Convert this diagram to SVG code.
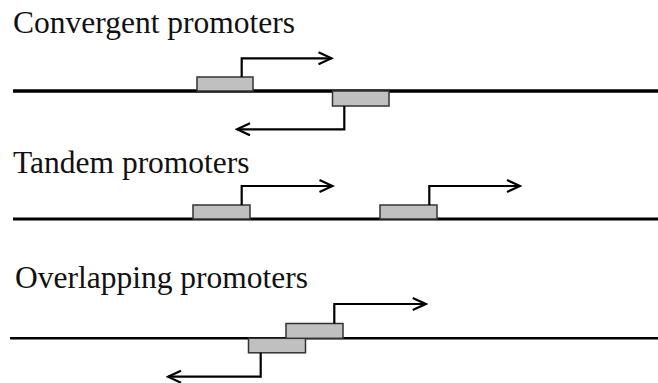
<svg xmlns="http://www.w3.org/2000/svg" width="658" height="383" viewBox="0 0 658 383">
<style>
.t{font-family:"Liberation Serif","Times New Roman",serif;font-size:31.5px;fill:#111}
.dna{stroke:#000;fill:none}
.box{fill:#c0c0c0;stroke:#333;stroke-width:1.5}
.arr{stroke:#000;stroke-width:2.2;fill:none}
</style>
<defs>
<marker id="ah" markerWidth="16" markerHeight="14" refX="14" refY="7" orient="auto" markerUnits="userSpaceOnUse">
<path d="M1,1 L14,7 L1,13" fill="none" stroke="#000" stroke-width="2.2"/>
</marker>
</defs>
<rect width="658" height="383" fill="#fff"/>
<g id="labels">
<text class="t" x="13" y="33">Convergent promoters</text>
<text class="t" x="13" y="173">Tandem promoters</text>
<text class="t" x="15" y="288">Overlapping promoters</text>
</g>
<g id="dna">
<line class="dna" x1="13" y1="91" x2="658" y2="91" stroke-width="3.5"/>
<line class="dna" x1="13" y1="219" x2="658" y2="219" stroke-width="3"/>
<line class="dna" x1="10" y1="338.3" x2="658" y2="338.3" stroke-width="2.6"/>
</g>
<g id="promoter-c1"><rect class="box" x="197" y="77" width="56" height="14"/></g>
<g id="promoter-c2"><rect class="box" x="332.5" y="91" width="56.5" height="15"/></g>
<g id="promoter-t1"><rect class="box" x="193" y="205" width="57" height="14"/></g>
<g id="promoter-t2"><rect class="box" x="380" y="205" width="57" height="14"/></g>
<g id="promoter-o2"><rect class="box" x="248.5" y="338.3" width="57" height="14.5"/></g>
<g id="promoter-o1"><rect class="box" x="286" y="323.5" width="57" height="14.8"/></g>
<g id="connectors">
<path class="arr" d="M241.7,77 V58.3 H331.5" marker-end="url(#ah)"/>
<path class="arr" d="M344.3,106 V129.3 H237" marker-end="url(#ah)"/>
<path class="arr" d="M241.7,205 V186 H332.5" marker-end="url(#ah)"/>
<path class="arr" d="M429.3,205 V186 H520" marker-end="url(#ah)"/>
<path class="arr" d="M334.3,323.5 V304 H425.7" marker-end="url(#ah)"/>
<path class="arr" d="M260.7,352.8 V376.7 H168" marker-end="url(#ah)"/>
</g>
</svg>
